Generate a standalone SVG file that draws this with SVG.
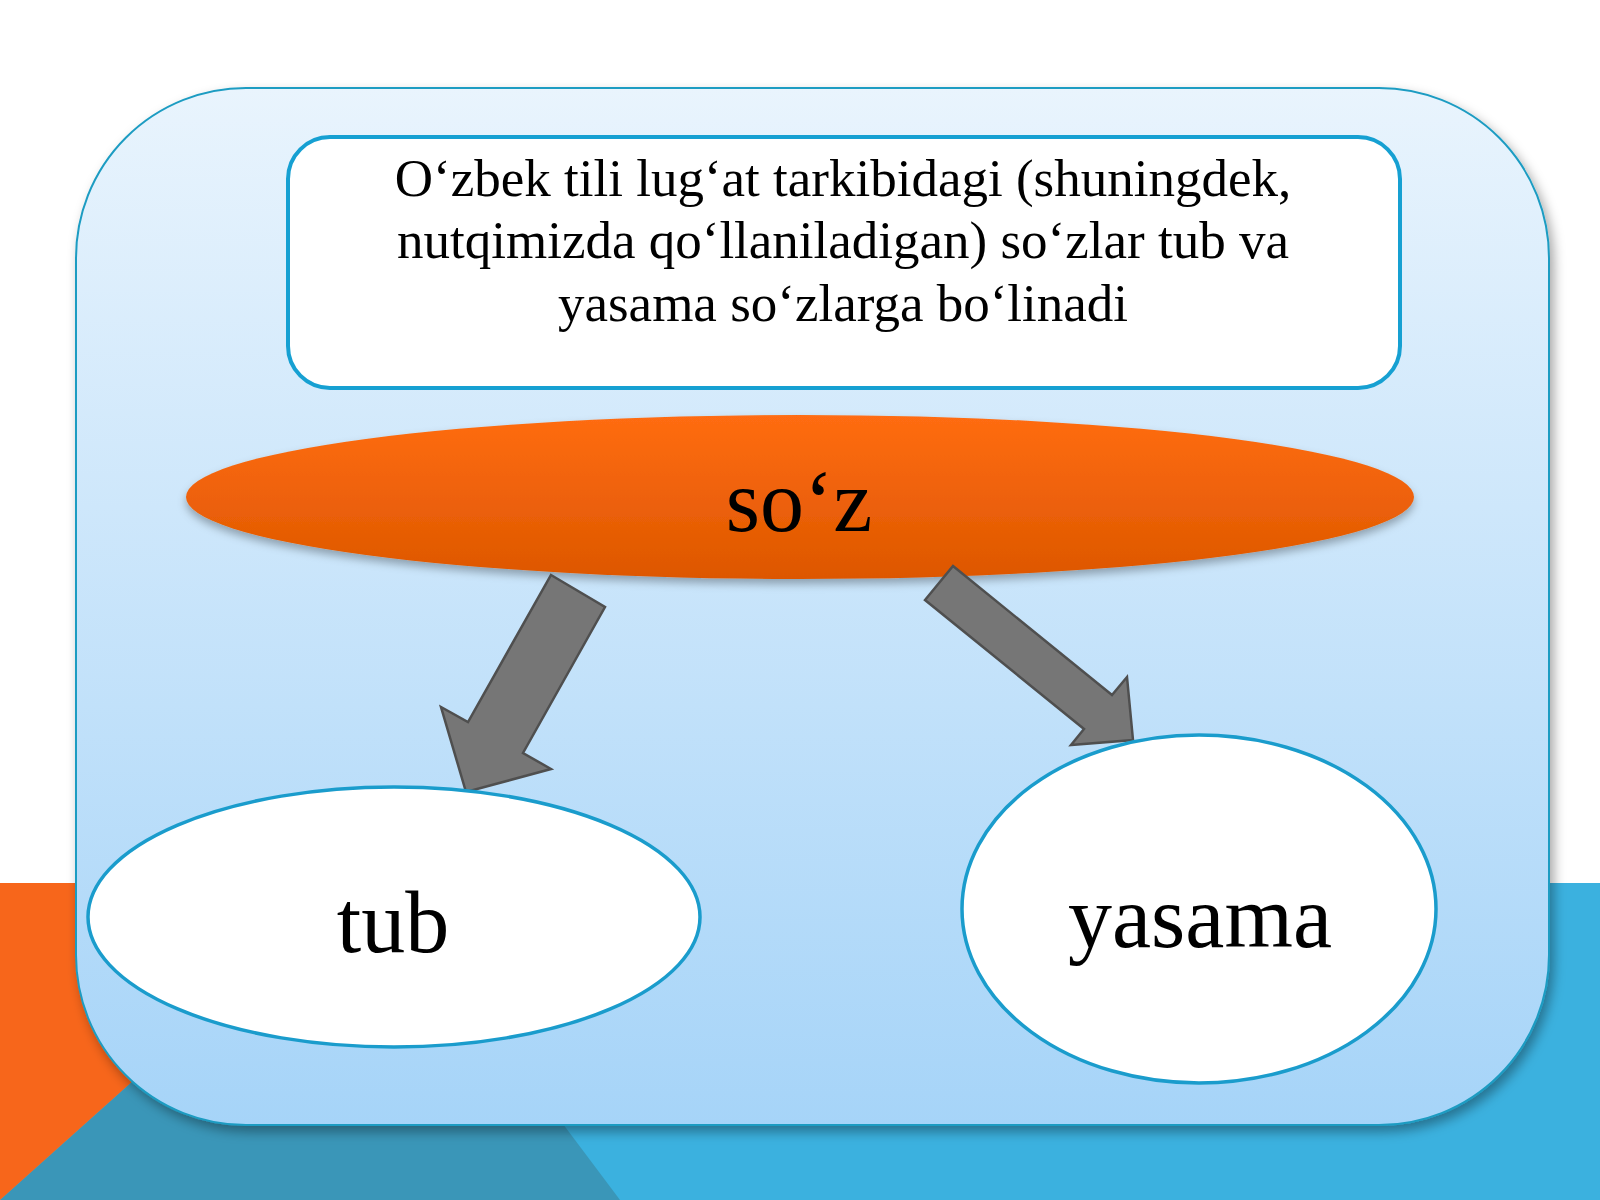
<svg xmlns="http://www.w3.org/2000/svg" width="1600" height="1200" viewBox="0 0 1600 1200">
<defs>
<style>
.t{font-family:"Liberation Serif","Times New Roman",serif;fill:#000;text-anchor:middle}
.lbl{font-size:88px}
.body{font-size:53px}
.leaf{fill:#fff;stroke:#1a9ccc;stroke-width:3.5}
.arr{fill:#767676;stroke:#4f4f4f;stroke-width:2.5;stroke-linejoin:miter}
</style>
<linearGradient id="panel" x1="0" y1="0" x2="0" y2="1">
<stop offset="0" stop-color="#e9f4fd"/>
<stop offset="1" stop-color="#a6d4f8"/>
</linearGradient>
<linearGradient id="orange" x1="0" y1="0" x2="0" y2="1">
<stop offset="0" stop-color="#ff6c12"/>
<stop offset="1" stop-color="#dd5700"/>
</linearGradient>
<filter id="sh" x="-10%" y="-10%" width="125%" height="125%">
<feDropShadow dx="4" dy="6" stdDeviation="6" flood-color="#000" flood-opacity="0.35"/>
</filter>
<filter id="sh2" x="-10%" y="-30%" width="120%" height="170%">
<feDropShadow dx="0" dy="5" stdDeviation="4" flood-color="#000" flood-opacity="0.3"/>
</filter>
</defs>
<rect width="1600" height="1200" fill="#fff"/>
<g id="background">
<rect x="0" y="883" width="1600" height="317" fill="#3bb1df"/>
<polygon points="354,883 382,883 620,1200 0,1200" fill="#3a96b8"/>
<polygon points="0,883 354,883 0,1200" fill="#f7661b"/>
</g>
<g id="panel">
<rect x="76" y="88" width="1473" height="1037" rx="170" ry="170" fill="url(#panel)" stroke="#1d9cc2" stroke-width="2" filter="url(#sh)"/>
</g>
<g id="intro">
<rect x="288" y="137" width="1112" height="251" rx="42" ry="42" fill="#fff" stroke="#16a0d2" stroke-width="4"/>
<text class="t body" x="843" y="196">O‘zbek tili lug‘at tarkibidagi (shuningdek,</text>
<text class="t body" x="843" y="258">nutqimizda qo‘llaniladigan) so‘zlar tub va</text>
<text class="t body" x="843" y="321">yasama so‘zlarga bo‘linadi</text>
</g>
<g id="soz">
<ellipse cx="800" cy="497" rx="614" ry="82" fill="url(#orange)" filter="url(#sh2)"/>
<text class="t lbl" x="799" y="531">so‘z</text>
</g>
<g id="connectors">
<polygon class="arr" points="551,575 605,607 523,753 551,769 466,792 441,707 468,722"/>
<polygon class="arr" points="953,566 1112,695 1127,677 1133,740 1071,745 1084,729 925,600"/>
</g>
<g id="tub">
<ellipse class="leaf" cx="394" cy="917" rx="306" ry="130"/>
<text class="t lbl" x="393" y="952">tub</text>
</g>
<g id="yasama">
<ellipse class="leaf" cx="1199" cy="909" rx="237" ry="174"/>
<text class="t lbl" x="1200" y="947">yasama</text>
</g>
</svg>
